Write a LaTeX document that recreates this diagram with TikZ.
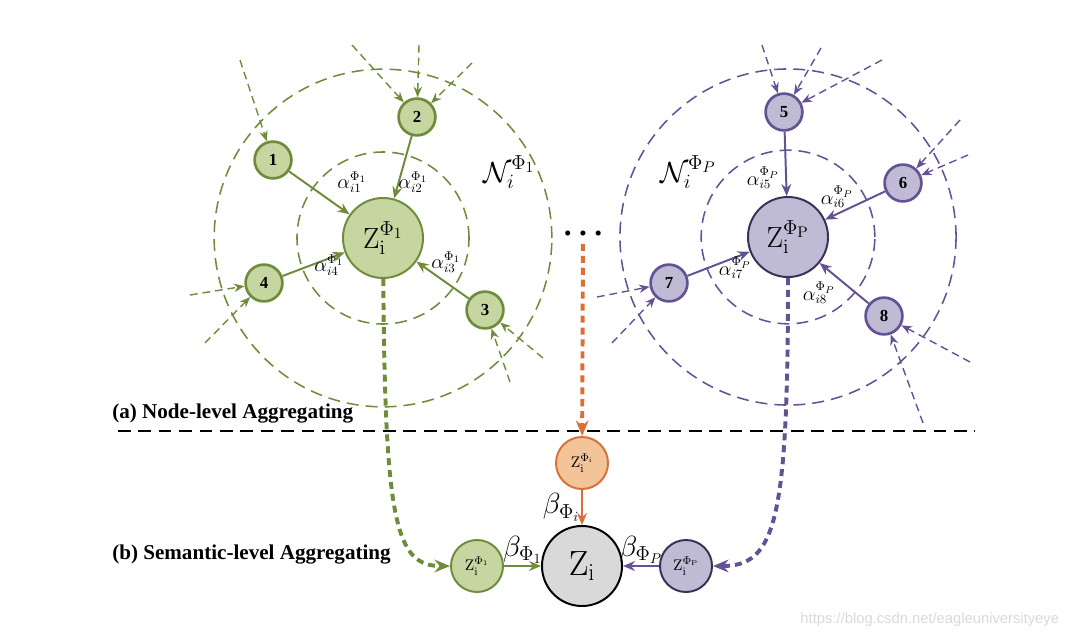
\documentclass[tikz,border=0pt]{standalone}
\usepackage[no-math]{fontspec}
\setmainfont{Liberation Serif}
\newfontfamily\wmfont{Liberation Sans}
\usetikzlibrary{arrows.meta}

\definecolor{grnfill}{RGB}{197,214,160}
\definecolor{grnline}{RGB}{110,140,60}
\definecolor{purfill}{RGB}{192,187,212}
\definecolor{purline}{RGB}{100,82,148}
\definecolor{purdark}{RGB}{58,48,88}
\definecolor{orgfill}{RGB}{242,196,152}
\definecolor{orgline}{RGB}{217,112,56}
\definecolor{gryfill}{RGB}{217,217,217}

\begin{document}
\begin{tikzpicture}[x=0.025cm, y=-0.025cm, >={Stealth[length=8.5pt, width=7pt]},
    num/.style={circle, line width=1.9pt, minimum size=0.92cm, inner sep=0pt, font=\bfseries\fontsize{12}{12}\selectfont},
    hub/.style={circle, line width=1.4pt, minimum size=2cm, inner sep=0pt, font=\fontsize{21}{21}\selectfont},
    mid/.style={circle, line width=1.4pt, minimum size=1.3cm, inner sep=0pt, font=\fontsize{11}{11}\selectfont},
    ring/.style={line width=1.1pt, dash pattern=on 8.5pt off 5pt},
    feed/.style={-{Stealth[length=7.5pt, width=6pt]}, line width=1pt, dash pattern=on 5.5pt off 3.5pt},
    link/.style={->, line width=1.4pt},
    carry/.style={-{Stealth[length=11pt, width=9pt]}, line width=2.8pt, dash pattern=on 5pt off 3.5pt},
    wt/.style={font=\fontsize{13.5}{13.5}\selectfont, inner sep=0pt},
    nbh/.style={font=\fontsize{22}{22}\selectfont, inner sep=0pt},
    bw/.style={text=black, font=\fontsize{20}{20}\selectfont, inner sep=1pt},
    lvl/.style={anchor=west, font=\bfseries\fontsize{15}{18}\selectfont, inner sep=0pt}]
    \useasboundingbox (0,0) rectangle (1066,637);

    % neighbourhood rings
    \coordinate (cg) at (383,238);
    \coordinate (cp) at (788,237);
    \draw[ring, grnline] (cg) circle[radius=2.15cm] (cg) circle[radius=4.22cm];
    \draw[ring, purline] (cp) circle[radius=2.17cm] (cp) circle[radius=4.2cm];

    % node-level, path Phi_1
    \node[hub, draw=grnline, fill=grnfill] (zg) at (cg) {$\mathrm{Z}_{\mathrm{i}}^{\Phi_1}$};
    \node[num, draw=grnline, fill=grnfill] (n1) at (273,160) {1};
    \node[num, draw=grnline, fill=grnfill] (n2) at (417,117) {2};
    \node[num, draw=grnline, fill=grnfill] (n3) at (485,310) {3};
    \node[num, draw=grnline, fill=grnfill] (n4) at (264,283) {4};

    % node-level, path Phi_P
    \node[hub, draw=purdark, fill=purfill] (zp) at (cp) {$\mathrm{Z}_{\mathrm{i}}^{\Phi_{\mathrm{P}}}$};
    \node[num, draw=purline, fill=purfill] (n5) at (784,112) {5};
    \node[num, draw=purline, fill=purfill] (n6) at (903,183) {6};
    \node[num, draw=purline, fill=purfill] (n7) at (669,283) {7};
    \node[num, draw=purline, fill=purfill] (n8) at (884,316) {8};

    \path[link, grnline] (n1) edge (zg) (n2) edge (zg) (n3) edge (zg) (n4) edge (zg);
    \path[link, purline] (n5) edge (zp) (n6) edge (zp) (n7) edge (zp) (n8) edge (zp);

    % incoming neighbours
    \foreach \nm/\px/\py in {g1/240/60, g2/352/45, g3/419/45, g4/472/63, g5/510/382, g6/543/358, g7/190/295, g8/205/343,
                             p1/762/45, p2/821/48, p3/882/60, p4/960/120, p5/968/155, p6/597/297, p7/612/343, p8/970/362, p9/923/423}
        \coordinate (\nm) at (\px,\py);
    \foreach \src/\dst in {g1/n1, g2/n2, g3/n2, g4/n2, g5/n3, g6/n3, g7/n4, g8/n4}
        \draw[feed, grnline] (\src) -- (\dst);
    \foreach \src/\dst in {p1/n5, p2/n5, p3/n5, p4/n6, p5/n6, p6/n7, p7/n7, p8/n8, p9/n8}
        \draw[feed, purline] (\src) -- (\dst);

    % attention weights
    \node[wt] (a1) at (352,182) {$\alpha_{i1}^{\Phi_1}$};
    \node[wt] (a2) at (413,182) {$\alpha_{i2}^{\Phi_1}$};
    \node[wt] (a3) at (446,262) {$\alpha_{i3}^{\Phi_1}$};
    \node[wt] (a4) at (329,265) {$\alpha_{i4}^{\Phi_1}$};
    \node[wt] (a5) at (763,178) {$\alpha_{i5}^{\Phi_P}$};
    \node[wt] (a6) at (837,197) {$\alpha_{i6}^{\Phi_P}$};
    \node[wt] (a7) at (735,268) {$\alpha_{i7}^{\Phi_P}$};
    \node[wt] (a8) at (819,293) {$\alpha_{i8}^{\Phi_P}$};
    \node[nbh] (ng) at (509,172) {$\mathcal{N}_i^{\Phi_1}$};
    \node[nbh] (np) at (688,172) {$\mathcal{N}_i^{\Phi_P}$};

    \node[inner sep=2pt] (dots) at (583,236) {\fontsize{15}{15}\selectfont\textbullet\hspace{5.6pt}\textbullet\hspace{5.6pt}\textbullet};

    % levels
    \coordinate (sepl) at (118,431);
    \coordinate (sepr) at (975,431);
    \draw[line width=1.1pt, dash pattern=on 9pt off 5.5pt] (sepl) -- (sepr);
    \node[lvl] (la) at (112,414) {(a) Node-level Aggregating};
    \node[lvl] (lb) at (112,555) {(b) Semantic-level Aggregating};

    % semantic-level
    \node[mid, draw=orgline, fill=orgfill] (zo) at (582,463) {$\mathrm{Z}_{\mathrm{i}}^{\Phi_{\mathrm{i}}}$};
    \node[hub, draw=black, fill=gryfill, font=\fontsize{24}{24}\selectfont] (zt) at (582,566) {$\mathrm{Z}_{\mathrm{i}}$};
    \node[mid, draw=grnline, fill=grnfill] (zgs) at (477,566) {$\mathrm{Z}_{\mathrm{i}}^{\Phi_1}$};
    \node[mid, draw=purdark, fill=purfill] (zps) at (686,566) {$\mathrm{Z}_{\mathrm{i}}^{\Phi_{\mathrm{P}}}$};

    \draw[carry, orgline] (dots) -- (zo);
    \draw[carry, grnline] (zg) .. controls (385,520) and (395,566) .. (zgs);
    \draw[carry, purline] (zp) .. controls (788,520) and (776,566) .. (zps);

    \path[link, grnline] (zgs) edge node[above, bw] {$\beta_{\Phi_1}$} (zt);
    \path[link, orgline] (zo) edge node[left, bw] {$\beta_{\Phi_i}$} (zt);
    \path[link, purline] (zps) edge node[above, bw] {$\beta_{\Phi_P}$} (zt);

    \node[anchor=east, text=gray!30, font=\wmfont\fontsize{10.5}{12}\selectfont] (wm) at (1064,620) {https://blog.csdn.net/eagleuniversityeye};
\end{tikzpicture}
\end{document}
